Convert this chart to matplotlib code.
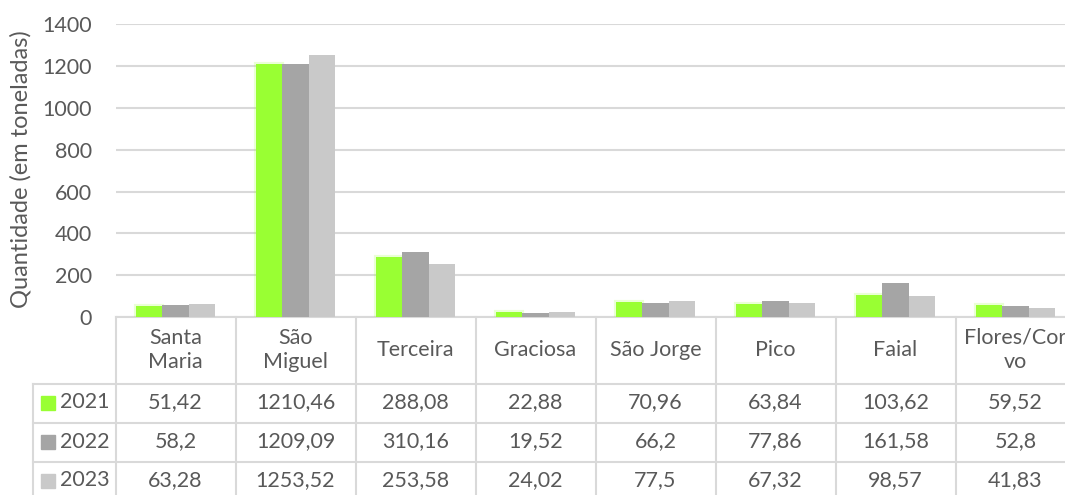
import numpy as np
import matplotlib.pyplot as plt
from matplotlib.lines import Line2D
from matplotlib.patches import Rectangle
import matplotlib.patheffects as pe

plt.rcParams['font.family'] = ['Lato', 'DejaVu Sans']

ilhas = ['Santa\nMaria', 'São\nMiguel', 'Terceira', 'Graciosa', 'São Jorge',
         'Pico', 'Faial', 'Flores/Cor\nvo']
anos = ['2021', '2022', '2023']
v2021 = [51.42, 1210.46, 288.08, 22.88, 70.96, 63.84, 103.62, 59.52]
v2022 = [58.2, 1209.09, 310.16, 19.52, 66.2, 77.86, 161.58, 52.8]
v2023 = [63.28, 1253.52, 253.58, 24.02, 77.5, 67.32, 98.57, 41.83]
cores = ['#99FF33', '#A5A5A5', '#C9C9C9']

W, H = 1065, 495
txt = '#595959'
linha = '#D9D9D9'
fs = 15.5


def fx(x):
    return x / W


def fy(y):
    return 1 - y / H


fig = plt.figure(figsize=(W / 100, H / 100), dpi=100)
x0, y0, y1 = 115.5, 317, 24.3
cw = 120  # largura de cada categoria em px
ax = fig.add_axes([fx(x0), fy(y0), 8 * cw / W, (y0 - y1) / H])

x = np.arange(len(ilhas))
bw = 0.22
for i, (vals, c) in enumerate(zip([v2021, v2022, v2023], cores)):
    bars = ax.bar(x + (i - 1) * bw, vals, bw, color=c, zorder=3)
    if i == 0:
        for b in bars:
            b.set_path_effects([pe.Stroke(linewidth=3, foreground=c, alpha=0.2), pe.Normal()])

ax.set_xlim(-0.5, len(ilhas) - 0.5)
ax.set_ylim(0, 1400)
ax.set_yticks(range(0, 1401, 200))
ax.yaxis.grid(True, color=linha, lw=1.5, zorder=0)
ax.set_xticks([])
ax.tick_params(axis='y', length=0, labelsize=fs, labelcolor=txt, pad=17)
for s in ['top', 'right', 'left']:
    ax.spines[s].set_visible(False)
ax.spines['bottom'].set_color(linha)
ax.spines['bottom'].set_linewidth(1.5)
ax.set_ylabel('Quantidade (em toneladas)', fontsize=17, color=txt)
ax.yaxis.set_label_coords(-(x0 - 32) / (8 * cw), 0.505)

# tabela de dados
rows_y = [384, 423, 462, 501]
xr = x0 + 8 * cw


def hline(y, xa, xb):
    fig.add_artist(Line2D([fx(xa), fx(xb)], [fy(y), fy(y)], color=linha, lw=1.5))


def vline(xp, ya, yb):
    fig.add_artist(Line2D([fx(xp), fx(xp)], [fy(ya), fy(yb)], color=linha, lw=1.5))


for y in rows_y[:-1]:
    hline(y, 33, xr)
vline(33, 384, H)
for k in range(9):
    vline(x0 + k * cw, y0, H)

for k, nome in enumerate(ilhas):
    fig.text(fx(x0 + (k + 0.5) * cw), fy(350), nome, ha='center', va='center',
             fontsize=fs, color=txt, linespacing=1.3)

for r, (ano, vals, c) in enumerate(zip(anos, [v2021, v2022, v2023], cores)):
    yc = (rows_y[r] + rows_y[r + 1]) / 2 - 1
    fig.add_artist(Rectangle((fx(41), fy(yc + 7)), 14 / W, 14 / H, color=c,
                             transform=fig.transFigure))
    fig.text(fx(60), fy(yc), ano, ha='left', va='center', fontsize=fs, color=txt)
    for k, v in enumerate(vals):
        s = ('%g' % v).replace('.', ',')
        fig.text(fx(x0 + (k + 0.5) * cw), fy(yc), s, ha='center', va='center',
                 fontsize=fs, color=txt)

fig.savefig('out.png', dpi=100)
